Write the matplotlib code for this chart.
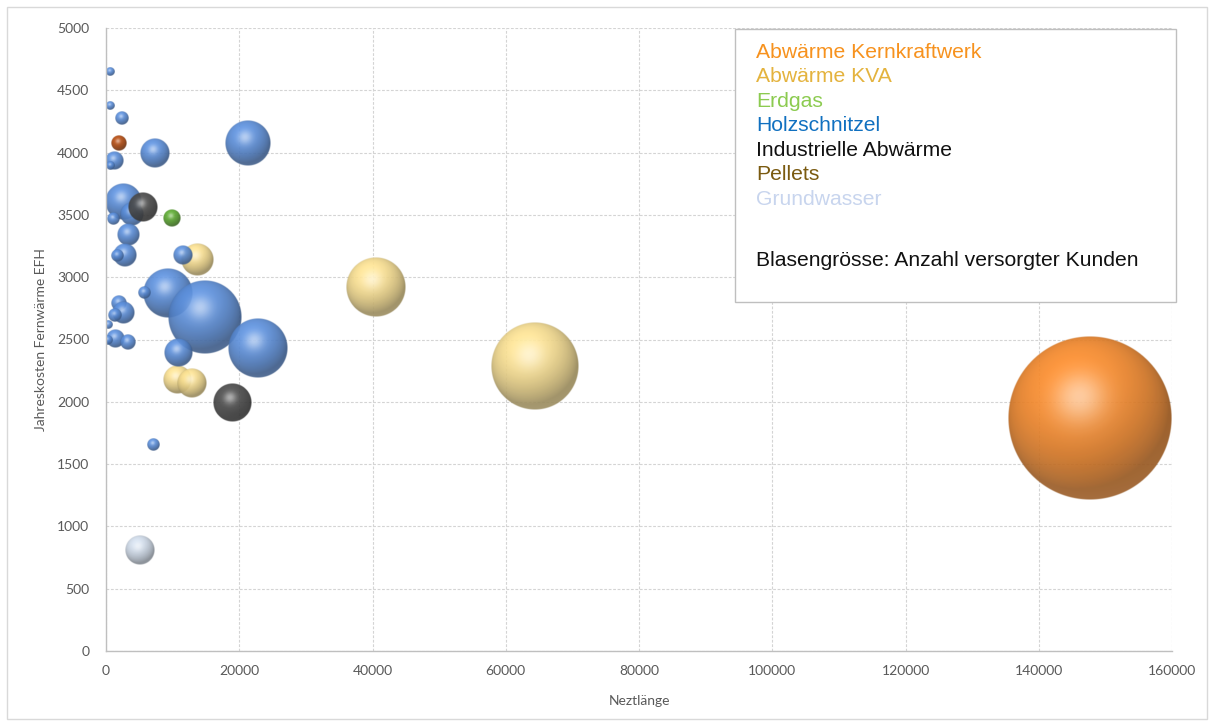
import numpy as np
import matplotlib
matplotlib.use("Agg")
import matplotlib.pyplot as plt
from matplotlib.patches import Rectangle
from matplotlib.colors import to_rgb

# ---------------- data ----------------
categories = ["Abwärme Kernkraftwerk", "Abwärme KVA", "Erdgas", "Holzschnitzel",
              "Industrielle Abwärme", "Pellets", "Grundwasser"]

kkw_x = [147700]
kkw_y = [1870]
kkw_n = [26900]

kva_x = [13660, 40520, 64390, 10660, 12910]
kva_y = [3138, 2921, 2287, 2175, 2151]
kva_n = [1025, 3600, 7745, 785, 900]

erdgas_x = [9900]
erdgas_y = [3475]
erdgas_n = [290]

holz_x = [600, 600, 2400, 7350, 21310, 1200, 600, 2550, 3900, 1050, 3300, 2850, 1650,
          11560, 9300, 5700, 14860, 1950, 2550, 1350, 300, 1350, 3300, 300, 22810, 10800, 7050]
holz_y = [4647, 4374, 4278, 3997, 4077, 3933, 3893, 3604, 3507, 3467, 3339, 3178, 3170,
          3178, 2873, 2873, 2681, 2793, 2713, 2697, 2616, 2504, 2480, 2496, 2432, 2392, 1653]
holz_n = [80, 80, 195, 900, 2115, 325, 65, 1300, 575, 145, 485, 575, 145,
          400, 2500, 145, 5475, 255, 485, 195, 65, 325, 255, 100, 3600, 785, 145]

ind_x = [5550, 18910]
ind_y = [3563, 1990]
ind_n = [900, 1445]

pellets_x = [1950]
pellets_y = [4077]
pellets_n = [255]

grund_x = [5100]
grund_y = [810]
grund_n = [900]

x_ticks = [0, 20000, 40000, 60000, 80000, 100000, 120000, 140000, 160000]
y_ticks = [0, 500, 1000, 1500, 2000, 2500, 3000, 3500, 4000, 4500, 5000]

series = [
    (kkw_x, kkw_y, kkw_n, "#F0862A"),
    (kva_x, kva_y, kva_n, "#F3DA8E"),
    (erdgas_x, erdgas_y, erdgas_n, "#5AA530"),
    (holz_x, holz_y, holz_n, "#5A8CD6"),
    (ind_x, ind_y, ind_n, "#4A4A4A"),
    (pellets_x, pellets_y, pellets_n, "#B04A10"),
    (grund_x, grund_y, grund_n, "#CBD6E4"),
]
legend_colors = ["#F7921E", "#E4B33E", "#8CCB50", "#1070C0", "#111111", "#7A5A10", "#C8D5EE"]

# ---------------- figure ----------------
W, H = 1214, 726
fig = plt.figure(figsize=(W / 100, H / 100), dpi=100)
L, R, T, B = 106, 1172, 28, 651
ax = fig.add_axes([L / W, 1 - B / H, (R - L) / W, (B - T) / H])
ax.set_xlim(0, 160000)
ax.set_ylim(0, 5000)
ax.set_aspect("auto")

font = "Lato"
ax.set_xticks(x_ticks)
ax.set_yticks(y_ticks)
ax.set_xticklabels([str(v) for v in x_ticks], fontsize=10, color="#595959", family=font)
ax.set_yticklabels([str(v) for v in y_ticks], fontsize=10, color="#595959", family=font)
ax.tick_params(length=0, pad=10)
ax.tick_params(axis="y", pad=12)
ax.grid(True, color="#D4D4D4", linestyle=(0, (2.5, 1.5)), linewidth=0.8)
ax.set_axisbelow(True)
for s in ["top", "right"]:
    ax.spines[s].set_visible(False)
for s in ["left", "bottom"]:
    ax.spines[s].set_color("#BFBFBF")
    ax.spines[s].set_linewidth(1.0)
ax.set_xlabel("Neztlänge", fontsize=10, color="#595959", family=font, labelpad=13)
ax.set_ylabel("Jahreskosten Fernwärme EFH", fontsize=10, color="#595959", family=font, labelpad=7)

# bubble scale: largest bubble radius in pixels
R_MAX = 82.0
n_max = max(max(s[2]) for s in series)
px_per_x = (R - L) / 160000.0
px_per_y = (B - T) / 5000.0


def sphere_image(color, r_px):
    n = int(max(40, 4 * r_px))
    c = np.linspace(-1, 1, n)
    u, v = np.meshgrid(c, c)  # v positive downward (row)
    rr = np.sqrt(u ** 2 + v ** 2)
    inside = np.clip(1 - rr ** 2, 0, None)
    nz = np.sqrt(inside)
    nx, ny = u, -v
    Lv = np.array([-0.25, 0.5, 0.83])
    Lv = Lv / np.linalg.norm(Lv)
    diff = np.clip(nx * Lv[0] + ny * Lv[1] + nz * Lv[2], 0, 1)
    base = np.array(to_rgb(color))
    col = base[None, None, :] * (0.62 + 0.45 * diff[..., None])
    # specular highlight
    Hv = Lv + np.array([0, 0, 1.0])
    Hv = Hv / np.linalg.norm(Hv)
    spec = np.clip(nx * Hv[0] + ny * Hv[1] + nz * Hv[2], 0, 1) ** 20
    col = col + (1 - col) * (0.5 * spec[..., None])
    # subtle bottom reflection
    refl = np.clip(-ny, 0, 1) * np.clip(rr - 0.55, 0, 1) * 0.6
    col = col + (1 - col) * (0.3 * refl[..., None])
    col = np.clip(col, 0, 1)
    aa = np.clip((1 - rr) * n / 2.0, 0, 1)
    alpha = aa * 0.92
    return np.dstack([col, alpha])


z = 2
for xs, ys, ns, color in series:
    for x, y, nval in zip(xs, ys, ns):
        r_px = R_MAX * np.sqrt(nval / n_max)
        rx = r_px / px_per_x
        ry = r_px / px_per_y
        img = sphere_image(color, r_px)
        ax.imshow(img, extent=(x - rx, x + rx, y - ry, y + ry), origin="upper",
                  interpolation="bilinear", zorder=z, aspect="auto")
        z += 0.01

ax.set_xlim(0, 160000)
ax.set_ylim(0, 5000)
ax.set_aspect("auto")

# legend box
lx0, ly0, lx1, ly1 = 735, 29, 1176, 302
fig.add_artist(Rectangle((lx0 / W, 1 - ly1 / H), (lx1 - lx0) / W, (ly1 - ly0) / H,
                         transform=fig.transFigure, facecolor="white",
                         edgecolor="#BFBFBF", linewidth=1.0, zorder=10))
line_y0 = 52
dy = 24.6
for i, (name, c) in enumerate(zip(categories, legend_colors)):
    fig.text(756 / W, 1 - (line_y0 + i * dy) / H, name, color=c, fontsize=15.2,
             family="Liberation Sans", va="center", ha="left", zorder=11)
fig.text(756 / W, 1 - 260 / H, "Blasengrösse: Anzahl versorgter Kunden", color="#111111",
         fontsize=15.2, family="Liberation Sans", va="center", ha="left", zorder=11)

# outer chart border
fig.add_artist(Rectangle((7 / W, 1 - 719 / H), (1207 - 7) / W, (719 - 7) / H,
                         transform=fig.transFigure, facecolor="none",
                         edgecolor="#D9D9D9", linewidth=1.0, zorder=0))

fig.savefig("out.png", dpi=100)
